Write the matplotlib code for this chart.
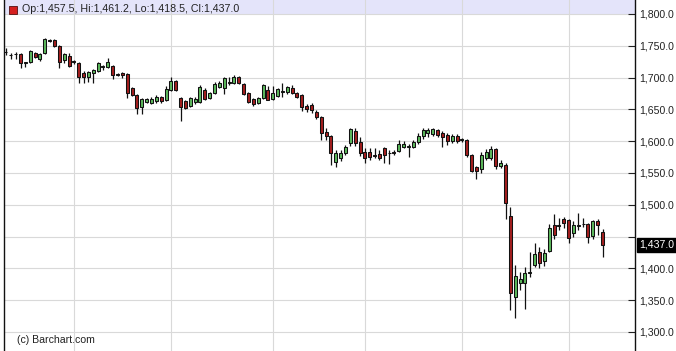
import matplotlib
matplotlib.use("Agg")
import matplotlib.pyplot as plt
import matplotlib.transforms as mtransforms
from matplotlib.patches import Rectangle
from matplotlib.ticker import FuncFormatter, FixedLocator
import numpy as np

plt.rcParams['font.family'] = ['Liberation Sans', 'DejaVu Sans']

# ---- data (daily candles) ----
opens = [1739.5, 1735.5, 1737.0, 1737.0, 1723.0, 1724.5, 1738.7, 1729.2, 1738.7, 1759.1,
         1759.1, 1749.7, 1727.7, 1734.0, 1726.1, 1723.0, 1707.2, 1700.9, 1707.2, 1710.4,
         1716.7, 1716.7, 1718.2, 1705.7, 1707.2, 1705.7, 1683.6, 1672.6, 1653.8, 1661.6,
         1660.1, 1663.2, 1669.5, 1664.8, 1680.5, 1694.7, 1667.9, 1663.2, 1655.3, 1661.6,
         1661.6, 1680.5, 1667.9, 1675.8, 1685.2, 1683.6, 1691.5, 1691.5, 1700.9, 1689.9,
         1675.8, 1666.4, 1660.1, 1667.9, 1680.5, 1666.4, 1671.1, 1677.4, 1677.4, 1683.6,
         1675.8, 1672.6, 1655.3, 1656.9, 1645.9, 1638.0, 1614.5, 1608.2, 1567.3, 1573.6,
         1581.5, 1597.2, 1616.0, 1598.7, 1583.0, 1583.0, 1578.3, 1579.9, 1589.3, 1581.5,
         1583.0, 1584.6, 1590.9, 1590.9, 1590.9, 1598.7, 1608.2, 1612.9, 1611.3, 1617.6,
         1612.9, 1609.8, 1600.3, 1608.2, 1601.9, 1601.9, 1578.3, 1559.4, 1556.3, 1573.6,
         1573.6, 1587.7, 1561.0, 1562.6, 1482.4, 1355.0, 1377.0, 1377.0, 1392.0, 1405.4,
         1425.8, 1411.6, 1427.4, 1468.2, 1466.7, 1477.7, 1476.1, 1455.7, 1466.7, 1469.8,
         1469.8, 1450.9, 1474.5, 1457.5]
highs = [1746.5, 1739.0, 1740.0, 1739.0, 1725.0, 1743.4, 1740.3, 1738.7, 1762.3, 1760.7,
         1760.7, 1751.3, 1738.7, 1738.7, 1727.7, 1724.5, 1710.4, 1710.4, 1713.5, 1724.5,
         1719.8, 1730.8, 1719.8, 1707.2, 1708.8, 1707.2, 1685.2, 1674.2, 1667.9, 1667.9,
         1669.5, 1672.6, 1671.1, 1686.8, 1700.9, 1696.2, 1669.5, 1664.8, 1669.5, 1669.5,
         1688.4, 1683.6, 1677.4, 1693.1, 1694.7, 1700.9, 1700.9, 1704.1, 1702.5, 1691.5,
         1677.4, 1667.9, 1669.5, 1689.9, 1686.8, 1686.8, 1683.6, 1691.5, 1686.8, 1688.4,
         1677.4, 1674.2, 1658.5, 1660.1, 1649.1, 1639.6, 1620.8, 1609.8, 1586.2, 1586.2,
         1594.0, 1620.8, 1620.8, 1606.6, 1589.3, 1589.3, 1589.3, 1586.2, 1590.9, 1586.2,
         1586.2, 1601.9, 1600.3, 1595.6, 1601.9, 1612.9, 1620.8, 1620.8, 1620.8, 1619.2,
         1616.0, 1612.9, 1611.3, 1611.3, 1605.0, 1603.5, 1580.0, 1561.0, 1583.0, 1587.7,
         1592.5, 1590.0, 1570.0, 1565.0, 1496.5, 1405.4, 1394.0, 1402.2, 1425.8, 1439.9,
         1433.0, 1431.0, 1469.8, 1485.5, 1479.2, 1480.8, 1478.0, 1474.5, 1487.1, 1479.2,
         1471.4, 1476.1, 1477.7, 1461.2]
lows = [1735.5, 1729.0, 1729.0, 1715.0, 1717.0, 1723.0, 1730.8, 1726.1, 1737.1, 1756.0,
        1748.1, 1715.1, 1723.0, 1716.7, 1721.4, 1691.5, 1691.5, 1693.1, 1691.5, 1708.8,
        1712.0, 1715.1, 1697.8, 1702.5, 1699.4, 1667.9, 1671.1, 1642.8, 1642.8, 1660.1,
        1658.5, 1660.1, 1660.1, 1663.2, 1678.9, 1678.9, 1631.8, 1650.6, 1653.8, 1658.5,
        1660.1, 1664.8, 1666.4, 1674.2, 1683.6, 1674.2, 1688.4, 1689.9, 1689.9, 1672.6,
        1660.1, 1655.3, 1658.5, 1666.4, 1664.0, 1664.8, 1669.5, 1669.5, 1674.2, 1674.2,
        1667.9, 1647.5, 1645.9, 1644.3, 1634.9, 1601.9, 1601.9, 1562.6, 1559.4, 1568.9,
        1578.3, 1592.5, 1592.5, 1576.7, 1565.7, 1570.4, 1573.6, 1570.4, 1565.7, 1564.2,
        1578.3, 1583.0, 1589.3, 1575.2, 1589.3, 1595.6, 1603.5, 1606.6, 1608.2, 1606.6,
        1590.9, 1594.0, 1597.2, 1597.2, 1598.7, 1575.0, 1551.6, 1540.6, 1550.0, 1570.4,
        1570.4, 1556.0, 1558.0, 1477.7, 1334.6, 1322.0, 1366.0, 1336.2, 1386.5, 1402.2,
        1400.0, 1403.0, 1425.8, 1446.2, 1460.4, 1463.5, 1439.9, 1450.0, 1460.4, 1464.5,
        1439.9, 1446.0, 1452.5, 1418.5]
closes = [1740.5, 1735.0, 1737.5, 1723.0, 1724.0, 1741.8, 1732.4, 1737.1, 1760.7, 1757.5,
          1749.7, 1724.5, 1737.1, 1718.2, 1724.5, 1700.9, 1700.9, 1708.8, 1712.0, 1723.0,
          1718.2, 1724.5, 1704.1, 1704.1, 1704.1, 1675.8, 1672.6, 1652.2, 1666.4, 1666.4,
          1666.4, 1669.5, 1663.2, 1682.1, 1694.7, 1680.5, 1653.8, 1652.2, 1667.9, 1666.4,
          1685.2, 1666.4, 1675.8, 1689.9, 1691.5, 1699.4, 1693.1, 1700.9, 1691.5, 1674.2,
          1661.6, 1658.5, 1667.9, 1688.4, 1665.5, 1675.8, 1682.1, 1678.9, 1685.2, 1675.8,
          1669.5, 1653.8, 1650.6, 1649.1, 1638.0, 1612.9, 1608.2, 1581.5, 1581.5, 1581.5,
          1590.9, 1619.2, 1597.2, 1581.5, 1573.6, 1575.2, 1576.7, 1573.6, 1578.3, 1582.0,
          1581.5, 1595.6, 1595.6, 1592.5, 1598.7, 1608.2, 1617.6, 1617.6, 1619.2, 1609.8,
          1606.6, 1600.3, 1608.2, 1600.3, 1603.5, 1578.3, 1553.1, 1553.1, 1578.3, 1583.0,
          1587.7, 1561.0, 1565.7, 1502.8, 1361.3, 1388.0, 1383.3, 1392.8, 1394.3, 1422.6,
          1408.5, 1424.2, 1463.5, 1452.5, 1468.0, 1471.4, 1447.8, 1468.2, 1467.5, 1470.5,
          1449.4, 1474.5, 1468.2, 1437.0]

month_start_idx = [14, 34, 55, 74, 94, 116]
price_ticks = [1300, 1350, 1400, 1450, 1500, 1550, 1600, 1650, 1700, 1750, 1800]
header_text = "Op:1,457.5, Hi:1,461.2, Lo:1,418.5, Cl:1,437.0"
last_close = closes[-1]

# ---- figure ----
W, H = 676, 351
fig = plt.figure(figsize=(W / 100, H / 100), dpi=100)
fig.patch.set_facecolor('white')
ax = fig.add_axes([4 / W, 0, 631 / W, 1])
ax.set_facecolor('white')

x = np.arange(len(opens))
o = np.array(opens); c = np.array(closes); h = np.array(highs); l = np.array(lows)
up = c >= o
green = '#5cb85c'
red = '#a31f1f'

ax.vlines(x, l, h, color='#111111', lw=0.9, zorder=2)
body_h = np.where(np.abs(c - o) < 0.6, 0.6 * np.sign(c - o + 1e-9), c - o)
ax.bar(x, body_h, bottom=o, width=0.62,
       color=np.where(up, green, red), edgecolor='#111111', linewidth=0.75, zorder=3)

ax.set_xlim(-0.41, 129.7)
ax.set_ylim(1270.1, 1822.0)

# grid
ax.xaxis.set_major_locator(FixedLocator(month_start_idx))
ax.yaxis.set_major_locator(FixedLocator(price_ticks))
ax.grid(True, color='#d9d9d9', lw=0.8)
ax.set_axisbelow(True)
ax.tick_params(axis='x', length=0, labelbottom=False)


def fmt(v, p):
    # the last-price box hides the label it sits on
    if abs(v - last_close) < 20:
        return ""
    return f"{v:,.1f}"


ax.yaxis.tick_right()
ax.yaxis.set_major_formatter(FuncFormatter(fmt))
ax.tick_params(axis='y', direction='in', length=5, width=0.8, pad=3,
               labelsize=7.6, labelcolor='#222222', color='#222222')

for s in ['top', 'bottom']:
    ax.spines[s].set_visible(False)
ax.spines['left'].set_color('#111111')
ax.spines['right'].set_color('#111111')
ax.spines['left'].set_linewidth(1.0)
ax.spines['right'].set_linewidth(1.0)

# header band
band_h = 15 / H
ax.add_patch(Rectangle((0, 1 - band_h), 1, band_h, transform=ax.transAxes,
                       facecolor='#e4e4fa', edgecolor='none', zorder=0.2))
ax.add_patch(Rectangle((5.3 / 631, 1 - 14 / H), 7.5 / 631, 8 / H, transform=ax.transAxes,
                       facecolor='#d42020', edgecolor='#551111', lw=0.6, zorder=4))
ax.text(17.7 / 631, 1 - 9.5 / H, header_text, transform=ax.transAxes,
        fontsize=7.7, color='#222222', va='center', ha='left', zorder=4)

# last price box
trans = mtransforms.blended_transform_factory(ax.transAxes, ax.transData)
ax.annotate(f"{last_close:,.1f}", xy=(1.0, last_close), xycoords=trans,
            xytext=(3.0, 0), textcoords='offset points', ha='left', va='center',
            fontsize=7.6, color='white', annotation_clip=False,
            bbox=dict(boxstyle='square,pad=0.22', facecolor='black', edgecolor='black'))

# copyright
fig.text(17 / W, 1 - 340 / H, "(c) Barchart.com", fontsize=7.6, color='#222222',
         va='center', ha='left')

fig.savefig('out.png', dpi=100)
